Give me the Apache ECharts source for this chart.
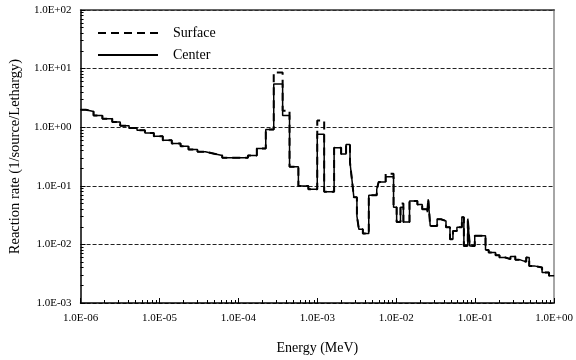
<!DOCTYPE html>
<html>
<head>
<meta charset="utf-8">
<script src="https://cdn.jsdelivr.net/npm/echarts@6/dist/echarts.min.js"></script>
<style>
  html, body { margin: 0; padding: 0; background: #fff; }
  #chart { width: 576px; height: 360px; }
</style>
</head>
<body>
<div id="chart"></div>
<script>
// bin edges (MeV), one more than the number of bins
var binEdges = [
  1e-6, 1.16e-6, 1.46e-6, 1.89e-6, 2.52e-6, 3.18e-6, 4.12e-6, 5.19e-6, 6.54e-6, 8.48e-6,
  1.10e-5, 1.43e-5, 1.85e-5, 2.33e-5, 3.03e-5, 3.81e-5, 4.94e-5, 6.23e-5, 1.32e-4, 1.71e-4,
  2.22e-4, 2.80e-4, 3.63e-4, 4.44e-4, 5.75e-4, 7.69e-4, 9.97e-4, 1.22e-3, 1.63e-3, 2.00e-3,
  2.31e-3, 2.59e-3, 2.74e-3, 2.90e-3, 3.17e-3, 3.36e-3, 3.77e-3, 4.48e-3, 5.65e-3, 5.98e-3,
  7.33e-3, 9.23e-3, 1.01e-2, 1.13e-2, 1.23e-2, 1.47e-2, 1.85e-2, 2.13e-2, 2.47e-2, 2.54e-2,
  2.69e-2, 2.85e-2, 3.29e-2, 3.69e-2, 4.26e-2, 4.79e-2, 5.22e-2, 5.86e-2, 6.77e-2, 7.18e-2,
  8.05e-2, 8.53e-2, 9.86e-2, 0.135, 0.148, 0.181, 0.203, 0.241, 0.279, 0.322,
  0.372, 0.443, 0.483, 0.558, 0.703, 0.861, 1.0
];
// reaction rate in each bin, center of the sample
var centerRate = [
  1.99, 1.86, 1.59, 1.40, 1.23, 1.06, 0.97, 0.885, 0.80, 0.70,
  0.60, 0.526, 0.473, 0.416, 0.38, 0.352, 0.329, 0.30, 0.329, 0.432,
  0.91, 5.45, 1.59, 0.211, 0.099, 0.087, 0.76, 0.079, 0.445, 0.349,
  0.506, 0.25, 0.128, 0.0635, 0.0305, 0.0181, 0.0153, 0.0687, 0.0869, 0.1156,
  0.143, 0.043, 0.024, 0.043, 0.024, 0.055, 0.048, 0.0397, 0.0353, 0.0587,
  0.0206, 0.0206, 0.0268, 0.0251, 0.0196, 0.0123, 0.017, 0.0196, 0.029, 0.0094,
  0.0275, 0.0094, 0.014, 0.008, 0.00728, 0.00655, 0.00598, 0.0056, 0.00622, 0.00545,
  0.00504, 0.006, 0.0043, 0.00405, 0.00333, 0.00291
];
// bins where the surface rate sits above the center rate: [bin start, rate]
var surfacePeaks = [[2.80e-4, 8.6], [3.63e-4, 1.91], [9.97e-4, 1.3], [7.33e-3, 0.16], [1.13e-2, 0.05]];
var xTicks = ['1.0E-06', '1.0E-05', '1.0E-04', '1.0E-03', '1.0E-02', '1.0E-01', '1.0E+00'];
var yTicks = ['1.0E-03', '1.0E-02', '1.0E-01', '1.0E+00', '1.0E+01', '1.0E+02'];

var surfaceRate = centerRate.map(function (v, i) {
  for (var k = 0; k < surfacePeaks.length; k++) {
    if (surfacePeaks[k][0] === binEdges[i]) return surfacePeaks[k][1];
  }
  return v;
});

function stepPoints(rate) {
  return binEdges.map(function (e, i) {
    return [e, rate[Math.min(i, rate.length - 1)]];
  });
}

function sciLabel(list, minExp) {
  return function (value) {
    var idx = Math.round(Math.log(value) / Math.LN10) - minExp;
    return list[idx] || '';
  };
}

var font = 'Liberation Serif';
var chart = echarts.init(document.getElementById('chart'));
var option = {
  animation: false,
  color: ['#000', '#000'],
  textStyle: { fontFamily: font, color: '#000' },
  grid: { left: 77, right: 21, top: 10, bottom: 56 },
  legend: {
    orient: 'vertical',
    left: 97,
    top: 26,
    padding: 0,
    itemWidth: 60,
    itemHeight: 14,
    itemGap: 8,
    itemStyle: { opacity: 0 },
    textStyle: { fontFamily: font, fontSize: 14, color: '#000', padding: [0, 0, 0, 10] },
    data: ['Surface', 'Center']
  },
  xAxis: [{
    type: 'log',
    logBase: 10,
    min: 1e-6,
    max: 1,
    name: 'Energy (MeV)',
    nameLocation: 'middle',
    nameGap: 38,
    nameTextStyle: { fontFamily: font, fontSize: 14, color: '#000' },
    axisLine: { lineStyle: { color: '#000', width: 1.5 } },
    axisTick: { inside: true, length: 5, lineStyle: { color: '#000' } },
    minorTick: { show: true, splitNumber: 9, length: 3, lineStyle: { color: '#000' } },
    axisLabel: { fontFamily: font, fontSize: 11, color: '#000', margin: 10, formatter: sciLabel(xTicks, -6) },
    splitLine: { show: false }
  }, {
    type: 'value',
    position: 'top',
    min: 0,
    max: 1,
    axisLine: { show: true, lineStyle: { color: '#333', width: 1.5 } },
    axisTick: { show: false },
    axisLabel: { show: false },
    splitLine: { show: false }
  }],
  yAxis: [{
    type: 'log',
    logBase: 10,
    min: 1e-3,
    max: 100,
    name: 'Reaction rate (1/source/Lethargy)',
    nameLocation: 'middle',
    nameGap: 57,
    nameTextStyle: { fontFamily: font, fontSize: 14.5, color: '#000' },
    axisLine: { show: true, lineStyle: { color: '#000', width: 1.5 } },
    axisTick: { inside: true, length: 5, lineStyle: { color: '#000' } },
    minorTick: { show: true, splitNumber: 9, length: 3, lineStyle: { color: '#000' } },
    axisLabel: { fontFamily: font, fontSize: 11, color: '#000', margin: 9, formatter: sciLabel(yTicks, -3) },
    splitLine: { show: true, lineStyle: { color: '#222', width: 1, type: [4, 2] } }
  }, {
    type: 'value',
    position: 'right',
    min: 0,
    max: 1,
    axisLine: { show: true, lineStyle: { color: '#888', width: 1.5 } },
    axisTick: { show: false },
    axisLabel: { show: false },
    splitLine: { show: false }
  }],
  series: [{
    name: 'Surface',
    type: 'line',
    step: 'end',
    showSymbol: false,
    symbol: 'none',
    itemStyle: { color: '#000' },
    lineStyle: { color: '#000', width: 2, type: [8, 5] },
    data: stepPoints(surfaceRate)
  }, {
    name: 'Center',
    type: 'line',
    step: 'end',
    showSymbol: false,
    symbol: 'none',
    itemStyle: { color: '#000' },
    lineStyle: { color: '#000', width: 1.5 },
    data: stepPoints(centerRate)
  }]
};
chart.setOption(option);
</script>
</body>
</html>
